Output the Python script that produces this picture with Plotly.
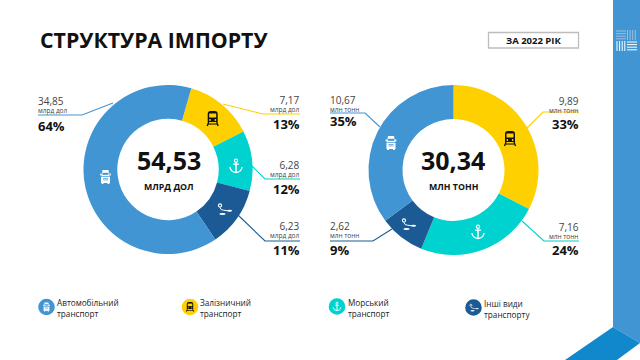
import plotly.graph_objects as go

W, H = 640, 360
BLUE, YEL, TEAL, NAVY = "#4295D3", "#FFD000", "#00D2D0", "#1B5A94"
DARK = "#1288CC"
INK = "#111111"
FONT = "Open Sans"

categories = ["Залізничний транспорт", "Морський транспорт", "Інші види транспорту", "Автомобільний транспорт"]
colors = [YEL, TEAL, NAVY, BLUE]
usd_values = [7.17, 6.28, 6.23, 34.85]
ton_values = [9.89, 7.16, 2.62, 10.67]


def dom(x0, x1, y0, y1):
    return dict(x=[x0 / W, x1 / W], y=[1 - y1 / H, 1 - y0 / H])


fig = go.Figure()
for vals, rot, d in [(usd_values, 16, dom(83.5, 252.5, 85, 254)), (ton_values, 0, dom(368.5, 538.5, 85, 255))]:
    fig.add_trace(go.Pie(labels=categories, values=vals, sort=False, direction="clockwise", rotation=rot,
                         hole=0.6, domain=d, textinfo="none", showlegend=False,
                         marker=dict(colors=colors, line=dict(width=0))))

shapes, ann = [], []


def path(d, fill=None, line=None, lw=1, layer="above"):
    s = dict(type="path", xref="x", yref="y", path=d, layer=layer,
             line=dict(color=line or "rgba(0,0,0,0)", width=lw if line else 0))
    s["fillcolor"] = fill if fill else "rgba(0,0,0,0)"
    shapes.append(s)


def poly(pts, **k):
    path("M" + " L".join(f"{x:.2f},{y:.2f}" for x, y in pts) + (" Z" if k.get("fill") else ""), **k)


def rect(x0, y0, x1, y1, fill):
    shapes.append(dict(type="rect", xref="x", yref="y", x0=x0, x1=x1, y0=y0, y1=y1, fillcolor=fill, line=dict(width=0)))


def circle(cx, cy, r, fill=None, line=None, lw=1, ry=None):
    ry = ry or r
    shapes.append(dict(type="circle", xref="x", yref="y", x0=cx - r, x1=cx + r, y0=cy - ry, y1=cy + ry,
                       fillcolor=fill or "rgba(0,0,0,0)",
                       line=dict(color=line or "rgba(0,0,0,0)", width=lw if line else 0)))


def text(x, y, s, size, anchor="left", bold=False, color=INK):
    ann.append(dict(x=x, y=y, xref="x", yref="y", text=f"<b>{s}</b>" if bold else s, showarrow=False,
                    xanchor=anchor, yanchor="middle", align=anchor, borderpad=0, borderwidth=0,
                    font=dict(family=FONT, size=size, color=color)))


def truck(cx, cy, k, c, bg):
    poly([(cx - 3 * k, cy - 7 * k), (cx + 3 * k, cy - 7 * k), (cx + 4 * k, cy - 1 * k), (cx - 4 * k, cy - 1 * k)], fill=c)
    rect(cx - 3 * k, cy - 4.2 * k, cx + 3 * k, cy - 2.2 * k, bg)
    rect(cx - 5.3 * k, cy - 3.6 * k, cx - 4 * k, cy - 1.6 * k, c)
    rect(cx + 4 * k, cy - 3.6 * k, cx + 5.3 * k, cy - 1.6 * k, c)
    rect(cx - 4.5 * k, cy - 0.3 * k, cx + 4.5 * k, cy + 6 * k, c)
    rect(cx - 2.6 * k, cy + 1 * k, cx + 2.6 * k, cy + 1.7 * k, bg)
    rect(cx - 2.6 * k, cy + 2.6 * k, cx + 2.6 * k, cy + 3.3 * k, bg)
    rect(cx - 3.8 * k, cy + 6 * k, cx - 2 * k, cy + 7 * k, c)
    rect(cx + 2 * k, cy + 6 * k, cx + 3.8 * k, cy + 7 * k, c)


def train(cx, cy, k, c, bg):
    path(f"M{cx-5*k},{cy-4*k} Q{cx-5*k},{cy-7*k} {cx-2*k},{cy-7*k} L{cx+2*k},{cy-7*k} Q{cx+5*k},{cy-7*k} {cx+5*k},{cy-4*k} "
         f"L{cx+5*k},{cy+4*k} L{cx-5*k},{cy+4*k} Z", fill=c)
    rect(cx - 3.5 * k, cy - 4.5 * k, cx + 3.5 * k, cy - 0.5 * k, bg)
    circle(cx - 2.7 * k, cy + 2 * k, 0.9 * k, fill=bg)
    circle(cx + 2.7 * k, cy + 2 * k, 0.9 * k, fill=bg)
    poly([(cx - 4 * k, cy + 4 * k), (cx - 5.5 * k, cy + 8 * k)], line=c, lw=1.3 * k)
    poly([(cx + 4 * k, cy + 4 * k), (cx + 5.5 * k, cy + 8 * k)], line=c, lw=1.3 * k)
    poly([(cx - 5 * k, cy + 6 * k), (cx + 5 * k, cy + 6 * k)], line=c, lw=1.1 * k)


def anchor(cx, cy, k, c):
    circle(cx, cy - 5.2 * k, 1.6 * k, line=c, lw=1.2 * k)
    poly([(cx, cy - 3.6 * k), (cx, cy + 6.2 * k)], line=c, lw=1.5 * k)
    poly([(cx - 3 * k, cy - 1.8 * k), (cx + 3 * k, cy - 1.8 * k)], line=c, lw=1.2 * k)
    path(f"M{cx-6*k},{cy+1*k} Q{cx-5.5*k},{cy+6*k} {cx},{cy+6.5*k} Q{cx+5.5*k},{cy+6*k} {cx+6*k},{cy+1*k}", line=c, lw=1.4 * k)


def route(cx, cy, k, c):
    circle(cx - 4 * k, cy - 3.5 * k, 1.6 * k, line=c, lw=1.1 * k)
    path(f"M{cx-4*k},{cy-1.4*k} Q{cx-3.5*k},{cy+1.2*k} {cx-0.5*k},{cy+1.2*k} L{cx+3*k},{cy+1.7*k}", line=c, lw=1 * k)
    circle(cx - 1.5 * k, cy + 5 * k, 3.2 * k, fill=c, ry=1 * k)
    circle(cx + 5.5 * k, cy + 1.7 * k, 2.6 * k, fill=c, ry=1 * k)


# Blue side band and dark corner
poly([(613, 0), (640, 0), (640, 343), (613, 327)], fill=BLUE)
poly([(565, 360), (613, 327), (640, 343), (617, 360)], fill=DARK)

# Side-band emblem
for i in range(4):
    poly([(616, 31 + i * 2.6), (626, 31 + i * 2.6)], line="#9ebfdc", lw=1)
    poly([(627.5 + i * 2.6, 30), (627.5 + i * 2.6, 40)], line="#9ebfdc", lw=1)
    poly([(617 + i * 2.6, 41), (617 + i * 2.6, 51)], line="white", lw=1)
    poly([(627, 42 + i * 2.6), (637, 42 + i * 2.6)], line="white", lw=1)

# Date box
shapes.append(dict(type="rect", xref="x", yref="y", x0=488.5, x1=578.5, y0=32.5, y1=48,
                   fillcolor="white", line=dict(color="#bdbdbd", width=1.3)))

# Leader lines
leaders = [
    ([(38, 115), (82, 115), (113, 103)], BLUE),
    ([(300, 114), (263, 114), (223, 104)], YEL),
    ([(300, 179), (265, 179), (252, 166)], TEAL),
    ([(300, 241), (265, 241), (238, 215)], NAVY),
    ([(330, 113), (365, 113), (380, 127)], BLUE),
    ([(579, 112), (543, 112), (527, 128)], YEL),
    ([(579, 241), (544, 241), (522, 221)], TEAL),
    ([(330, 241), (373, 241), (392, 229)], NAVY),
]
for pts, c in leaders:
    poly(pts, line=c, lw=1.1)

# Icons on the rings
truck(105.5, 177, 1.0, "white", BLUE)
train(212.7, 118, 1.0, INK, YEL)
anchor(236, 166, 1.0, "white")
route(224, 209, 1.0, "white")
truck(391, 143, 1.0, "white", BLUE)
train(510, 138, 1.0, INK, YEL)
anchor(478, 232, 1.0, "white")
route(408, 224, 1.0, "white")

# Legend markers
legend_x = [46.5, 190, 337, 473.5]
legend_y = [307, 307, 306.5, 307.5]
for x, y, c in zip(legend_x, legend_y, [BLUE, YEL, TEAL, NAVY]):
    circle(x, y, 8.3, fill=c)
truck(46.5, 307, 0.65, "white", BLUE)
train(190, 306.5, 0.65, INK, YEL)
anchor(337, 306.5, 0.65, "white")
route(473.5, 307.5, 0.65, "white")

# Texts
text(39.5, 39.5, "СТРУКТУРА ІМПОРТУ", 21.3, bold=True)
text(533.5, 40.5, "ЗА 2022 РІК", 9.5, "center", bold=True)
text(168.5, 160, "54,53", 25, "center", bold=True)
text(168.5, 187, "МЛРД ДОЛ", 8.8, "center", bold=True)
text(453, 160, "30,34", 25, "center", bold=True)
text(453, 187, "МЛН ТОНН", 8.8, "center", bold=True)

GR = "#444444"
rows = [
    (38, "left", "34,85", "млрд дол", "64%", 104.5, 126),
    (300, "right", "7,17", "млрд дол", "13%", 103.5, 124),
    (300, "right", "6,28", "млрд дол", "12%", 168, 189),
    (300, "right", "6,23", "млрд дол", "11%", 229, 250),
    (330, "left", "10,67", "млн тонн", "35%", 103, 121),
    (579, "right", "9,89", "млн тонн", "33%", 104, 124),
    (579, "right", "7,16", "млн тонн", "24%", 230.5, 250),
    (330, "left", "2,62", "млн тонн", "9%", 229, 250),
]
for x, a, v, u, p, y12, y3 in rows:
    text(x, y12, f'<span style="font-size:10px">{v}</span><br>{u}', 6.5, a, color=GR)
    text(x, y3, p, 13, a, bold=True)

legend_text = [(57, "Автомобільний<br>транспорт", 308), (200, "Залізничний<br>транспорт", 308),
               (348, "Морський<br>транспорт", 307.5), (484, "Інші види<br>транспорту", 308.5)]
for x, s, y in legend_text:
    text(x, y, s, 8.2, color="#222222")

fig.update_layout(
    width=W, height=H, margin=dict(l=0, r=0, t=0, b=0), paper_bgcolor="white", plot_bgcolor="rgba(0,0,0,0)",
    xaxis=dict(range=[0, W], visible=False, fixedrange=True),
    yaxis=dict(range=[H, 0], visible=False, fixedrange=True),
    shapes=shapes, annotations=ann, showlegend=False,
)
fig.write_html("out.html", config=dict(displayModeBar=False),
               post_script="document.body.style.margin='0';document.body.style.overflow='hidden';")
